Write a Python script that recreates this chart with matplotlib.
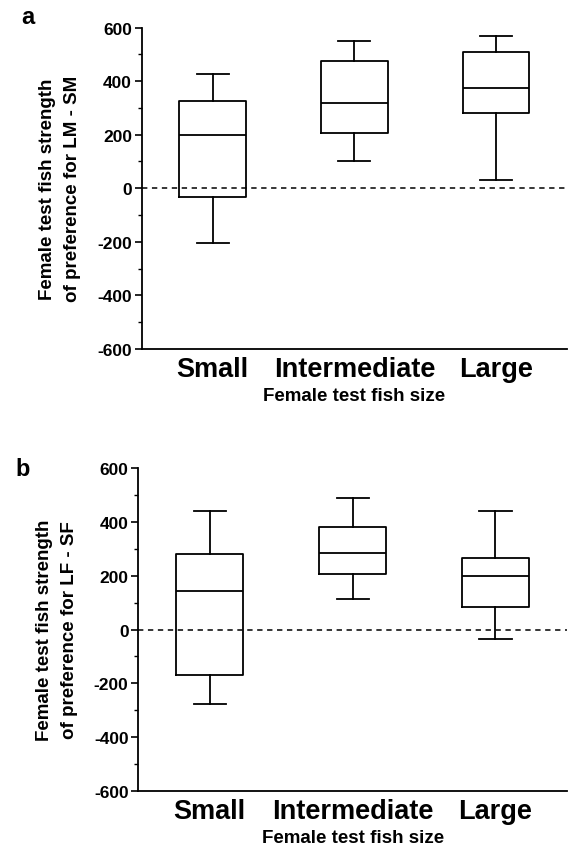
import matplotlib
matplotlib.use("Agg")
import matplotlib.pyplot as plt
from matplotlib.ticker import MultipleLocator

plt.rcParams['font.family'] = ['Liberation Sans', 'DejaVu Sans']
plt.rcParams['font.weight'] = 'bold'
plt.rcParams['axes.unicode_minus'] = False

categories = ['Small', 'Intermediate', 'Large']

# panel a: LM - SM
a_whislo = [-204, 103, 31]
a_q1 = [-31, 205, 282]
a_med = [197, 319, 375]
a_q3 = [324, 474, 509]
a_whishi = [427, 549, 569]

# panel b: LF - SF
b_whislo = [-278, 114, -37]
b_q1 = [-170, 207, 85]
b_med = [144, 283, 200]
b_q3 = [281, 380, 266]
b_whishi = [442, 488, 440]


def make_stats(lo, q1, med, q3, hi):
    stats = []
    for i in range(len(lo)):
        stats.append({'whislo': lo[i], 'q1': q1[i], 'med': med[i],
                      'q3': q3[i], 'whishi': hi[i], 'fliers': []})
    return stats


def draw_panel(ax, stats, letter, ylabel, fig, label_x, letter_xy):
    line = dict(color='black', linewidth=1.3)
    ax.bxp(stats, positions=[1, 2, 3], widths=0.47, capwidths=0.225,
           showfliers=False, boxprops=line, whiskerprops=line,
           capprops=line, medianprops=line)
    ax.axhline(0, color='black', linestyle=(0, (3.5, 3)), linewidth=1.1,
               zorder=0)
    ax.set_xlim(0.5, 3.5)
    ax.set_ylim(-600, 600)
    ax.yaxis.set_major_locator(MultipleLocator(200))
    ax.yaxis.set_minor_locator(MultipleLocator(100))
    ax.set_xticks([1, 2, 3])
    ax.set_xticklabels(categories, fontsize=19.5, fontweight='bold')
    ax.tick_params(axis='x', length=0, pad=5)
    ax.tick_params(axis='y', which='major', length=5, width=1.2,
                   labelsize=12.5, pad=2)
    ax.tick_params(axis='y', which='minor', length=3, width=1.0)
    for lab in ax.get_yticklabels():
        lab.set_fontweight('bold')
    ax.spines['top'].set_visible(False)
    ax.spines['right'].set_visible(False)
    ax.spines['left'].set_linewidth(1.3)
    ax.spines['bottom'].set_linewidth(1.3)

    pos = ax.get_position()
    fig.text(label_x, (pos.y0 + pos.y1) / 2, ylabel, rotation=90,
             ha='center', va='center', ma='center', fontsize=13.5,
             fontweight='bold', linespacing=1.55)
    fig.text((pos.x0 + pos.x1) / 2, pos.y0 - 47 / 854,
             'Female test fish size', ha='center', va='center',
             fontsize=13.5, fontweight='bold')
    fig.text(letter_xy[0], letter_xy[1], letter, ha='left', va='center',
             fontsize=17, fontweight='bold')


fig = plt.figure(figsize=(5.7, 8.54), dpi=100)
ax_a = fig.add_axes([0.2486, 0.5902, 0.7462, 0.3764])
ax_b = fig.add_axes([0.2426, 0.0729, 0.7520, 0.3776])

draw_panel(ax_a, make_stats(a_whislo, a_q1, a_med, a_q3, a_whishi), 'a',
           'Female test fish strength\nof preference for LM - SM', fig,
           60 / 570, (21 / 570, 1 - 18 / 854))
draw_panel(ax_b, make_stats(b_whislo, b_q1, b_med, b_q3, b_whishi), 'b',
           'Female test fish strength\nof preference for LF - SF', fig,
           57 / 570, (15 / 570, 1 - 469 / 854))

fig.savefig('out.png', dpi=100)
